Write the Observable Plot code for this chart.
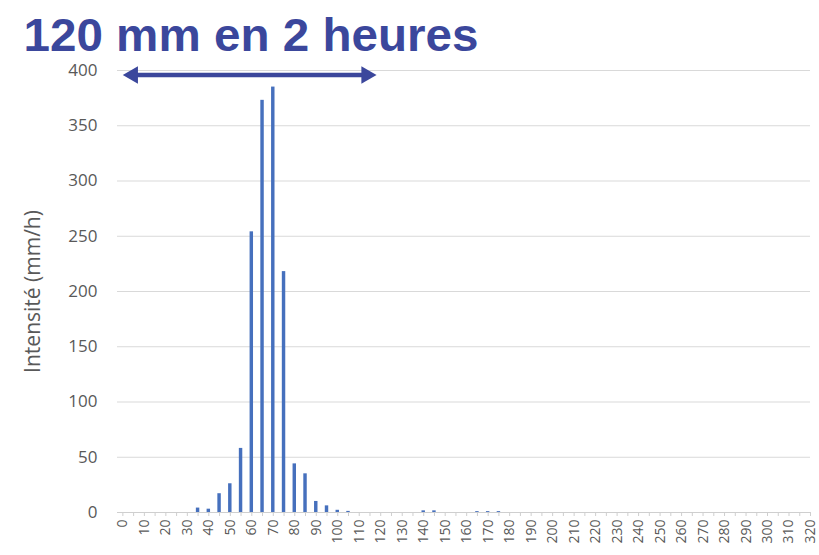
<!DOCTYPE html>
<html>
<head>
<meta charset="utf-8">
<script src="https://cdn.jsdelivr.net/npm/d3@7"></script>
<script src="https://cdn.jsdelivr.net/npm/@observablehq/plot@0.6"></script>
<style>
  html, body { margin: 0; padding: 0; background: #fff; }
  #chart svg { display: block; }
</style>
</head>
<body>
<div id="chart"></div>
<script>
const minutes = [0,5,10,15,20,25,30,35,40,45,50,55,60,65,70,75,80,85,90,95,100,105,110,115,120,125,130,135,140,145,150,155,160,165,170,175,180,185,190,195,200,205,210,215,220,225,230,235,240,245,250,255,260,265,270,275,280,285,290,295,300,305,310,315,320];
const intensity = [0,0,0,0,0,0,0,4,3,17,26,58,254,373,385,218,44,35,10,6,2,1,0,0,0,0,0,0,1.5,1.5,0,0,0,0.8,0.8,0.8,0,0,0,0,0,0,0,0,0,0,0,0,0,0,0,0,0,0,0,0,0,0,0,0,0,0,0,0,0];
const xTickLabels = [0,10,20,30,40,50,60,70,80,90,100,110,120,130,140,150,160,170,180,190,200,210,220,230,240,250,260,270,280,290,300,310,320];
const yTicks = [0,50,100,150,200,250,300,350,400];
const titleText = "120 mm en 2 heures";
const yLabel = "Intensité (mm/h)";
const spanMinutes = [0, 118];   // span of the annotated 2 hours
const spanLevel = 396;

const data = minutes.map((t, i) => ({t, v: intensity[i]}));
const blue = "#3b479c";
const bar = "#4670bd";
const grey = "#595959";

const chart = Plot.plot({
  width: 819,
  height: 555,
  marginTop: 70,
  marginBottom: 43,
  marginLeft: 117,
  marginRight: 9,
  style: {fontFamily: "'Open Sans', 'Noto Sans', sans-serif", background: "#fff", overflow: "visible"},
  x: {domain: [-2.5, 320], axis: null},
  y: {domain: [0, 400], axis: null},
  marks: [
    Plot.gridY(yTicks.slice(1), {stroke: "#d9d9d9", strokeOpacity: 1, strokeWidth: 1}),
    Plot.ruleY([0], {stroke: "#cfcfcf", strokeWidth: 1.2}),
    Plot.axisX(minutes, {tickSize: 4, tickFormat: () => "", stroke: "#cfcfcf", label: null}),
    Plot.rectY(data.filter(d => d.v > 0), {x1: d => d.t - 0.8, x2: d => d.t + 0.8, y: "v", fill: bar}),
    Plot.axisY(yTicks, {tickSize: 0, tickPadding: 20, fontSize: 17, fill: grey, label: null}),
    Plot.axisX(xTickLabels, {tickSize: 0, tickPadding: 7, tickRotate: -90, fontSize: 14, fill: grey, label: null}),
    Plot.text([yLabel], {frameAnchor: "left", dx: -84, rotate: -90, fontSize: 21, fill: grey, textAnchor: "middle"}),
    Plot.ruleY([spanLevel], {x1: spanMinutes[0] + 4, x2: spanMinutes[1] - 4, stroke: blue, strokeWidth: 4.5}),
    Plot.dot([spanMinutes[0]], {x: d => d, y: spanLevel, symbol: "triangle", rotate: -90, r: 6.5, fill: blue, stroke: "none", dx: 10}),
    Plot.dot([spanMinutes[1]], {x: d => d, y: spanLevel, symbol: "triangle", rotate: 90, r: 6.5, fill: blue, stroke: "none", dx: -10}),
    Plot.text([titleText], {frameAnchor: "top-left", dx: -94, dy: -19.5, textAnchor: "start", lineAnchor: "bottom",
      fontSize: 46, fontWeight: "bold", fill: blue, fontFamily: "'Liberation Sans', Arial, sans-serif"})
  ]
});
d3.select(chart).selectAll("text").filter(function() { return this.textContent === titleText; })
  .attr("textLength", 455).attr("lengthAdjust", "spacingAndGlyphs");
document.getElementById("chart").appendChild(chart);
</script>
</body>
</html>
